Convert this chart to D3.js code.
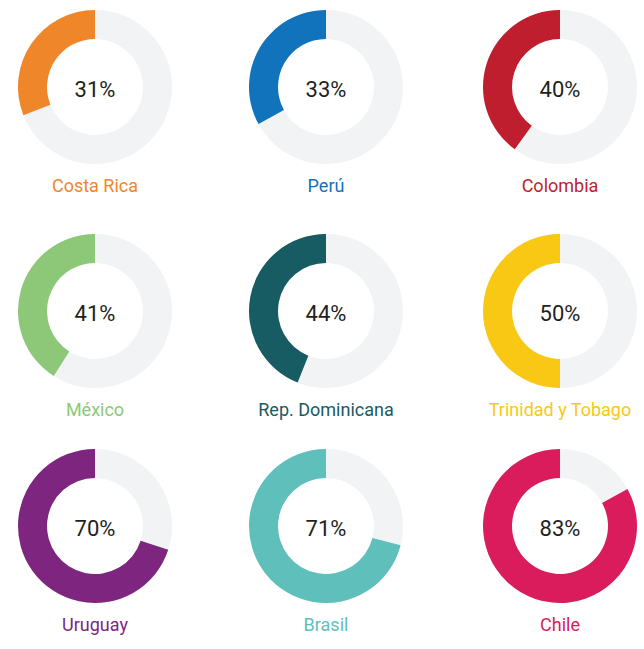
<!DOCTYPE html>
<html>
<head>
<meta charset="utf-8">
<script src="https://cdn.jsdelivr.net/npm/d3@7"></script>
<style>
    body { margin: 0; background: #fff; }
    svg text { font-family: Roboto, "Open Sans", sans-serif; }
</style>
</head>
<body>
<div id="chart"></div>
<script>
var countries = ["Costa Rica", "Perú", "Colombia", "México", "Rep. Dominicana", "Trinidad y Tobago", "Uruguay", "Brasil", "Chile"];
var values = [31, 33, 40, 41, 44, 50, 70, 71, 83];
var colors = ["#f0862a", "#1173bc", "#be1e2d", "#8dc878", "#175b63", "#f9c814", "#7e2580", "#5fbfbb", "#da1c5c"];

var cfg = {
    w: 644,
    h: 649,
    outerR: 77,
    innerR: 48,
    track: "#f2f3f5"
};

var svg = d3.select("#chart").append("svg")
    .attr("width", cfg.w)
    .attr("height", cfg.h);

// grid position of each donut
var x = d3.scaleOrdinal().domain([0, 1, 2]).range([95, 326, 560]);
var y = d3.scaleOrdinal().domain([0, 1, 2]).range([87, 311, 526]);

// percent -> angle, filling counter-clockwise from the top
var angle = d3.scaleLinear().domain([0, 100]).range([0, -2 * Math.PI]);

var arc = d3.arc()
    .innerRadius(cfg.innerR)
    .outerRadius(cfg.outerR);

var data = countries.map(function (c, i) {
    return { name: c, value: values[i], color: colors[i], col: i % 3, row: Math.floor(i / 3) };
});

var g = svg.selectAll(".donut")
    .data(data)
    .enter()
    .append("g")
    .classed("donut", true)
    .attr("transform", function (d) { return "translate(" + x(d.col) + "," + y(d.row) + ")"; });

g.append("path")
    .attr("fill", cfg.track)
    .attr("d", function () { return arc({ startAngle: 0, endAngle: 2 * Math.PI }); });

g.append("path")
    .attr("fill", function (d) { return d.color; })
    .attr("d", function (d) { return arc({ startAngle: angle(d.value), endAngle: 0 }); });

g.append("text")
    .attr("text-anchor", "middle")
    .attr("y", 10)
    .attr("font-size", 22)
    .attr("fill", "#231f20")
    .text(function (d) { return d.value + "%"; });

g.append("text")
    .attr("text-anchor", "middle")
    .attr("y", 105)
    .attr("font-size", 18)
    .attr("fill", function (d) { return d.color; })
    .text(function (d) { return d.name; });
</script>
</body>
</html>
